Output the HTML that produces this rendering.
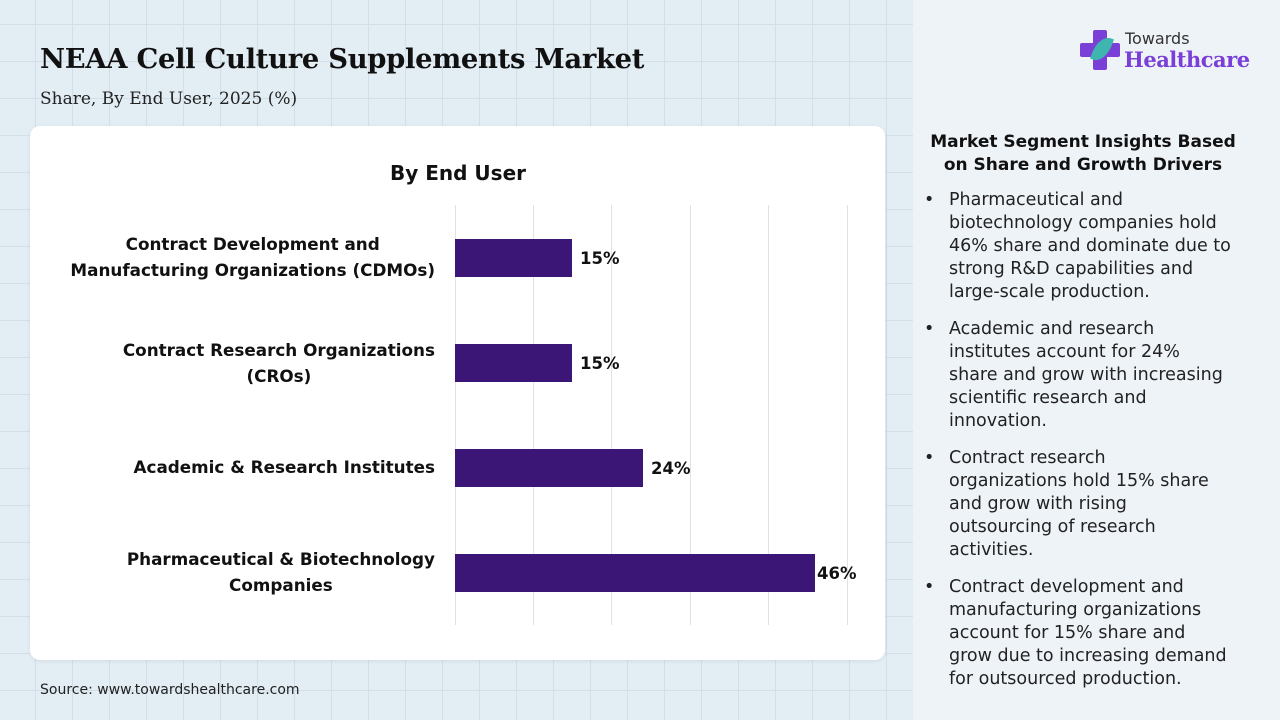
<!DOCTYPE html>
<html><head><meta charset="utf-8"><style>
*{margin:0;padding:0;box-sizing:border-box}
body{width:1280px;height:720px;overflow:hidden;position:relative;font-family:"DejaVu Sans",sans-serif;
background-color:#e3edf4;
background-image:linear-gradient(#d3dfe8 1px,transparent 1px),linear-gradient(90deg,#d3dfe8 1px,transparent 1px);
background-size:37px 37px;background-position:-2px -13px}
.abs{position:absolute}
.title{left:40px;top:43px;font:bold 27.4px "DejaVu Serif",serif;color:#111;letter-spacing:-0.3px}
.sub{left:40px;top:89px;font:17px "DejaVu Serif",serif;color:#222}
.card{left:30px;top:126px;width:855px;height:534px;background:#fff;border-radius:10px;box-shadow:0 1px 4px rgba(0,0,0,.08)}
.right{left:913px;top:0;width:367px;height:720px;background:#eef3f8}
.labw{left:20px;width:415px;text-align:right}
.lab{display:inline-block;font-weight:bold;font-size:16.8px;color:#111;text-align:center;line-height:26px}
.bar{background:#3b1677;left:455px;height:38px}
.val{font-weight:bold;font-size:16.5px;color:#111}
.grid{top:205px;width:1px;height:420px;background:#e2e2e2}
ul{list-style:none}
li{position:relative;padding-left:36px;font-size:17.5px;line-height:23px;color:#222;margin-bottom:14px;white-space:nowrap}
li:before{content:"•";position:absolute;left:11px;top:0}
</style></head><body>
<div class="abs right"></div>
<div class="abs title">NEAA Cell Culture Supplements Market</div>
<div class="abs sub">Share, By End User, 2025 (%)</div>
<div class="abs card"></div>
<div class="abs" style="left:1080px;top:30px;width:40px;height:40px">
<div class="abs" style="left:13px;top:0;width:14px;height:40px;background:#7a3fd6;border-radius:2px"></div>
<div class="abs" style="left:0;top:13px;width:40px;height:14px;background:#7a3fd6;border-radius:2px"></div>
<div class="abs" style="left:14px;top:6px;width:16px;height:26px;background:#3fb5b0;border-radius:80% 0 80% 0;transform:rotate(20deg)"></div>
</div>
<div class="abs" style="left:1125px;top:29px;font-size:16px;color:#333">Towards</div>
<div class="abs" style="left:1124px;top:47px;font:bold 21px 'DejaVu Serif',serif;color:#7a3fd6;letter-spacing:-0.5px">Healthcare</div>
<div class="abs" style="left:390px;top:161px;font-weight:bold;font-size:20px;color:#111">By End User</div>
<div class="abs grid" style="left:455px"></div><div class="abs grid" style="left:533px"></div><div class="abs grid" style="left:611px"></div><div class="abs grid" style="left:690px"></div><div class="abs grid" style="left:768px"></div><div class="abs grid" style="left:847px"></div>
<div class="abs labw" style="top:231px"><span class="lab">Contract Development and<br>Manufacturing Organizations (CDMOs)</span></div>
<div class="abs labw" style="top:337px"><span class="lab">Contract Research Organizations<br>(CROs)</span></div>
<div class="abs labw" style="top:454px"><span class="lab">Academic &amp; Research Institutes</span></div>
<div class="abs labw" style="top:546px"><span class="lab">Pharmaceutical &amp; Biotechnology<br>Companies</span></div>
<div class="abs bar" style="top:239px;width:117px"></div><div class="abs val" style="left:580px;top:249px">15%</div>
<div class="abs bar" style="top:344px;width:117px"></div><div class="abs val" style="left:580px;top:354px">15%</div>
<div class="abs bar" style="top:449px;width:188px"></div><div class="abs val" style="left:651px;top:459px">24%</div>
<div class="abs bar" style="top:554px;width:360px"></div><div class="abs val" style="left:817px;top:564px">46%</div>
<div class="abs" style="left:40px;top:682px;font-size:14px;color:#222">Source: www.towardshealthcare.com</div>
<div class="abs" style="left:913px;top:131px;width:340px;text-align:center;font-weight:bold;font-size:17px;line-height:23px;color:#111">Market Segment Insights Based<br>on Share and Growth Drivers</div>
<ul class="abs" style="left:913px;top:189px;width:367px">
<li>Pharmaceutical and<br>biotechnology companies hold<br>46% share and dominate due to<br>strong R&amp;D capabilities and<br>large-scale production.</li>
<li>Academic and research<br>institutes account for 24%<br>share and grow with increasing<br>scientific research and<br>innovation.</li>
<li>Contract research<br>organizations hold 15% share<br>and grow with rising<br>outsourcing of research<br>activities.</li>
<li>Contract development and<br>manufacturing organizations<br>account for 15% share and<br>grow due to increasing demand<br>for outsourced production.</li>
</ul>
</body></html>
